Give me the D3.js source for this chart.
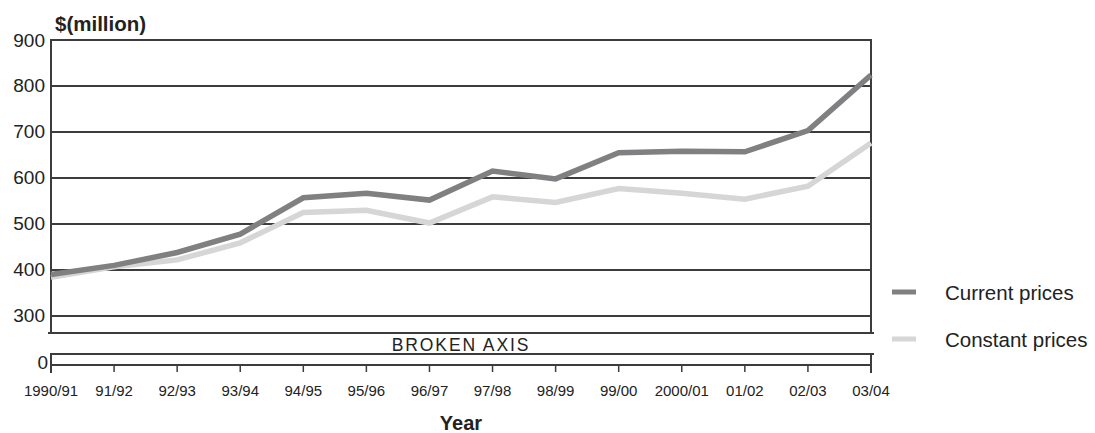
<!DOCTYPE html>
<html>
<head>
<meta charset="utf-8">
<script src="https://cdn.jsdelivr.net/npm/d3@7"></script>
<style>
  html, body { margin: 0; padding: 0; background: #fff; }
  svg { display: block; font-family: "Liberation Sans", Arial, sans-serif; }
</style>
</head>
<body>
<svg id="chart" width="1095" height="433"></svg>
<script>
const categories = ["1990/91","91/92","92/93","93/94","94/95","95/96","96/97","97/98","98/99","99/00","2000/01","01/02","02/03","03/04"];
const currentPrices  = [390, 410, 438, 478, 557, 567, 552, 615, 598, 655, 658, 657, 703, 824];
const constantPrices = [384, 407, 422, 459, 525, 530, 502, 559, 547, 577, 567, 554, 582, 676];
const yTicks = [300, 400, 500, 600, 700, 800, 900];
const legendLabels = ["Current prices", "Constant prices"];
const seriesColors = ["#808082", "#d6d6d6"];

const svg = d3.select("#chart");
const L = 51, R = 871, T = 40, B = 333;
const brokenTop = 354, zeroY = 365;
const axisColor = "#3c3c3c";

const x = d3.scalePoint().domain(categories).range([L, R]);
const y = d3.scaleLinear().domain([263, 900]).range([B, T]);
const y0 = d3.scaleLinear().domain([0, 10]).range([zeroY, zeroY - 46]);

// gridlines
svg.append("g").selectAll("line").data(yTicks.filter(d => d < 900)).join("line")
  .attr("x1", L).attr("x2", R).attr("y1", d => y(d)).attr("y2", d => y(d))
  .attr("stroke", axisColor).attr("stroke-width", 2);

// frame main
svg.append("path")
  .attr("d", `M${L},${B}V${y(900)}H${R}V${B}`)
  .attr("fill", "none").attr("stroke", axisColor).attr("stroke-width", 2);
svg.append("line").attr("x1", L - 3).attr("x2", R + 3).attr("y1", B).attr("y2", B)
  .attr("stroke", axisColor).attr("stroke-width", 2);

// lower broken part
svg.append("line").attr("x1", L).attr("x2", R + 3).attr("y1", brokenTop).attr("y2", brokenTop)
  .attr("stroke", axisColor).attr("stroke-width", 2);
svg.append("line").attr("x1", L).attr("x2", R).attr("y1", y0(0)).attr("y2", y0(0))
  .attr("stroke", axisColor).attr("stroke-width", 2);
svg.append("line").attr("x1", L).attr("x2", L).attr("y1", brokenTop - 1).attr("y2", zeroY + 8)
  .attr("stroke", axisColor).attr("stroke-width", 2);
svg.append("line").attr("x1", R).attr("x2", R).attr("y1", brokenTop - 1).attr("y2", zeroY + 8)
  .attr("stroke", axisColor).attr("stroke-width", 2);

// x ticks
svg.append("g").selectAll("line").data(categories).join("line")
  .attr("x1", d => x(d)).attr("x2", d => x(d))
  .attr("y1", zeroY).attr("y2", zeroY + 7)
  .attr("stroke", axisColor).attr("stroke-width", 1.5);

// x labels
svg.append("g").selectAll("text").data(categories).join("text")
  .attr("x", d => x(d)).attr("y", 390)
  .attr("text-anchor", "middle").attr("dominant-baseline", "central")
  .attr("font-size", 15).attr("fill", "#222")
  .text(d => d);

// y labels
svg.append("g").selectAll("text").data(yTicks).join("text")
  .attr("x", 45).attr("y", d => y(d))
  .attr("text-anchor", "end").attr("dominant-baseline", "central")
  .attr("font-size", 19).attr("fill", "#222")
  .text(d => d);
svg.append("text").attr("x", 48).attr("y", y0(0) - 3)
  .attr("text-anchor", "end").attr("dominant-baseline", "central")
  .attr("font-size", 19).attr("fill", "#222").text("0");

// broken axis text
svg.append("text").attr("x", (L + R) / 2).attr("y", (B + brokenTop) / 2 + 1)
  .attr("text-anchor", "middle").attr("dominant-baseline", "central")
  .attr("font-size", 17.5).attr("letter-spacing", 1.9).attr("fill", "#222")
  .text("BROKEN AXIS");

// titles
svg.append("text").attr("x", 55).attr("y", 31)
  .attr("font-size", 20.5).attr("font-weight", "bold").attr("fill", "#222")
  .text("$(million)");
svg.append("text").attr("x", (L + R) / 2).attr("y", 423)
  .attr("text-anchor", "middle").attr("dominant-baseline", "central")
  .attr("font-size", 20).attr("font-weight", "bold").attr("fill", "#222")
  .text("Year");

// lines
const line = d3.line().x((d, i) => x(categories[i])).y(d => y(d));
[constantPrices, currentPrices].forEach((s, k) => {
  const idx = 1 - k;
  svg.append("path").datum(s)
    .attr("d", line)
    .attr("fill", "none")
    .attr("stroke", seriesColors[idx])
    .attr("stroke-width", 5.5)
    .attr("stroke-linejoin", "miter");
});

// legend
const legY = [292, 339];
legendLabels.forEach((lab, i) => {
  svg.append("line").attr("x1", 892).attr("x2", 916).attr("y1", legY[i]).attr("y2", legY[i])
    .attr("stroke", seriesColors[i]).attr("stroke-width", 5);
  svg.append("text").attr("x", 945).attr("y", legY[i])
    .attr("dominant-baseline", "central").attr("font-size", 20.5).attr("fill", "#222")
    .text(lab);
});
</script>
</body>
</html>
